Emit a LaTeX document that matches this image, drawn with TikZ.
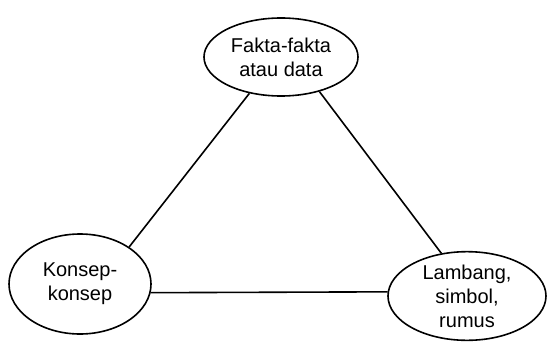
\documentclass[tikz,border=0pt]{standalone}
\usepackage{fontspec}
\setmainfont{Liberation Sans}
\usetikzlibrary{shapes.geometric}
\begin{document}
\begin{tikzpicture}[x=1pt,y=-1pt,
  oval/.style={ellipse,draw,line width=1.6pt,inner sep=0pt,align=center,
    font=\fontsize{20}{24}\selectfont},
  link/.style={line width=1.6pt}]
\useasboundingbox (0,0) rectangle (548,342);
\node[oval,minimum width=154pt,minimum height=78pt] (F) at (281,57) {Fakta-fakta\\atau data};
\node[oval,minimum width=142pt,minimum height=100pt] (K) at (80,284) {Konsep-\\konsep};
\node[oval,minimum width=158pt,minimum height=88pt] (L) at (467,296) {Lambang,\\simbol,\\rumus};
\draw[link] (F.229) -- (K.37);
\draw[link] (F.318) -- (L.121);
\draw[link] (K.-7) -- (L.177);
\end{tikzpicture}
\end{document}
